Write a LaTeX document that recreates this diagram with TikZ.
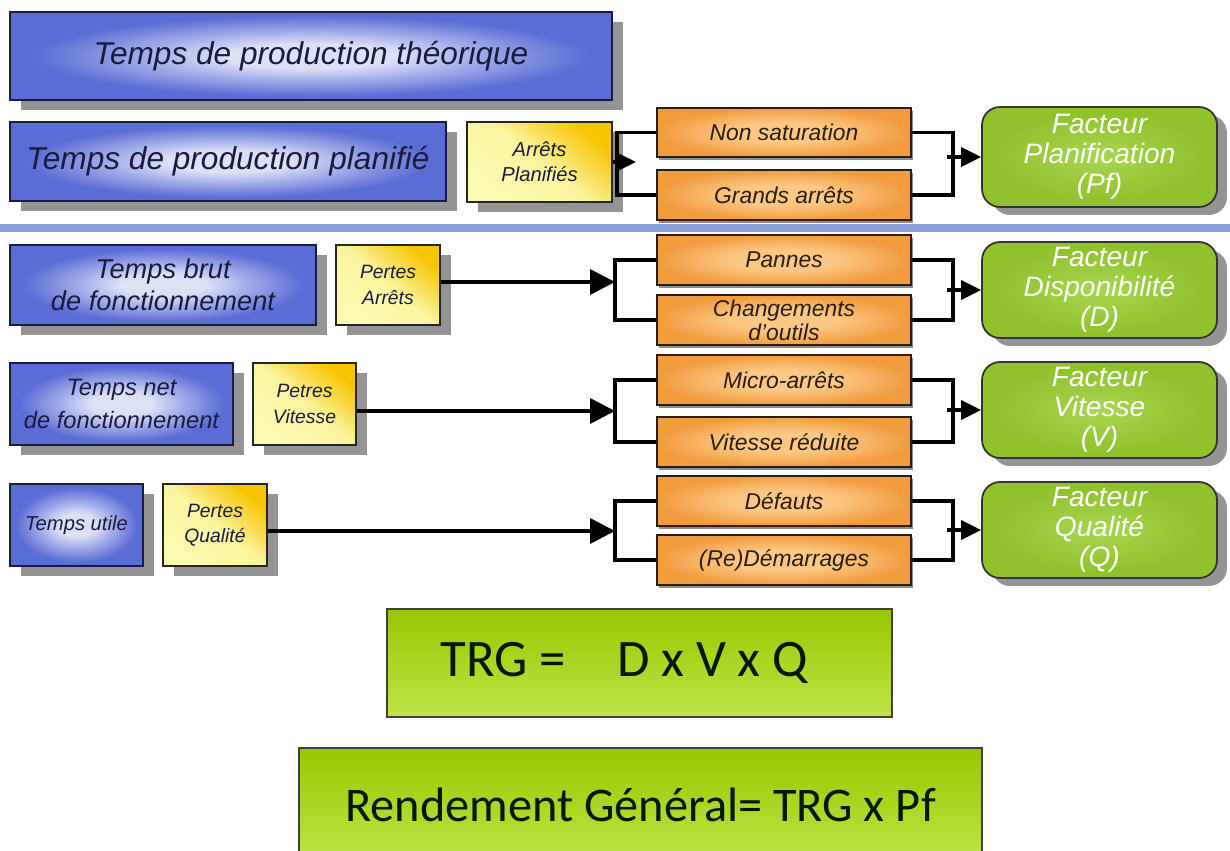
\documentclass[tikz,border=0pt]{standalone}
\usepackage{fontspec}
\setmainfont{Liberation Sans}
\newfontfamily\calibri{Carlito}
\usepackage{tikz}
\usetikzlibrary{shadows,arrows.meta}

\definecolor{boxblue}{RGB}{90,108,214}
\definecolor{bluemid}{RGB}{160,172,232}
\definecolor{boxbluelt}{RGB}{220,225,246}
\definecolor{bluetext}{RGB}{26,28,62}
\definecolor{ylwpale}{RGB}{252,250,178}
\definecolor{ylwgold}{RGB}{246,196,0}
\definecolor{orgdark}{RGB}{243,156,62}
\definecolor{orglight}{RGB}{250,200,132}
\definecolor{orgtext}{RGB}{42,30,18}
\definecolor{facgreen}{RGB}{144,194,44}
\definecolor{facgreenlt}{RGB}{170,214,82}
\definecolor{trgtop}{RGB}{152,200,0}
\definecolor{trgbot}{RGB}{190,228,72}
\definecolor{sepblue}{RGB}{138,158,216}

\pgfdeclareradialshading{blueglow}{\pgfpoint{0bp}{0bp}}{color(0bp)=(boxbluelt); color(7bp)=(boxbluelt); color(14bp)=(bluemid); color(23bp)=(boxblue); color(50bp)=(boxblue)}
\pgfdeclareradialshading{orangeglow}{\pgfpoint{0bp}{0bp}}{color(0bp)=(orglight); color(10bp)=(orglight); color(25bp)=(orgdark); color(50bp)=(orgdark)}
\pgfdeclareradialshading{greenglow}{\pgfpoint{0bp}{0bp}}{color(0bp)=(facgreenlt); color(22bp)=(facgreen); color(50bp)=(facgreen)}

\begin{document}
\begin{tikzpicture}[x=0.02cm, y=-0.02cm,
    tempsbox/.style={draw=bluetext, line width=0.9pt, shading=blueglow, text=bluetext,
      align=center, inner sep=0pt,
      drop shadow={shadow xshift=0.22cm, shadow yshift=-0.2cm, fill=black!42, opacity=1}},
    pertebox/.style={draw=black!85, line width=0.9pt, top color=ylwgold, bottom color=ylwpale,
      middle color=ylwpale!90!ylwgold, shading angle=-40, text=bluetext, align=center, inner sep=0pt,
      font=\itshape\fontsize{11.5}{14.5}\selectfont,
      drop shadow={shadow xshift=0.22cm, shadow yshift=-0.2cm, fill=black!42, opacity=1}},
    causebox/.style={draw=orgtext, line width=1pt, shading=orangeglow, text=orgtext, align=center,
      minimum width=5.08cm, minimum height=1cm, inner sep=0pt,
      font=\itshape\fontsize{13}{13.5}\selectfont,
      drop shadow={shadow xshift=0.04cm, shadow yshift=-0.06cm, fill=black!45, opacity=1}},
    facteur/.style={draw=black!80, line width=1pt, rounded corners=0.36cm, shading=greenglow,
      text=white, align=center, minimum width=4.7cm, inner sep=0pt,
      font=\itshape\fontsize{16}{17}\selectfont,
      drop shadow={shadow xshift=0.2cm, shadow yshift=-0.16cm, fill=black!42, opacity=1}},
    formule/.style={draw=black!75, line width=0.8pt, top color=trgtop, bottom color=trgbot,
      text=black!90!green, inner sep=0pt},
    link/.style={line width=2pt, line join=miter},
    flow/.style={line width=2pt, -{Triangle[length=0.5cm, width=0.5cm]}},
    flowsmall/.style={line width=2pt, -{Triangle[length=0.4cm, width=0.38cm]}}]

    \useasboundingbox (0,0) rectangle (1230,851);

    % Separator
    \draw[sepblue, line width=4pt] (0,228) -- (1230,228);

    % Time nodes
    \node[tempsbox, minimum width=12.04cm, minimum height=1.76cm, font=\itshape\fontsize{18}{21}\selectfont] (theo) at (311,56) {Temps de production théorique};
    \node[tempsbox, minimum width=8.72cm, minimum height=1.58cm, font=\itshape\fontsize{18}{21}\selectfont] (plan) at (228,161.5) {Temps de production planifié};
    \node[tempsbox, minimum width=6.12cm, minimum height=1.6cm, font=\itshape\fontsize{15.5}{18}\selectfont] (brut) at (163,285) {Temps brut\\de fonctionnement};
    \node[tempsbox, minimum width=4.46cm, minimum height=1.64cm, font=\itshape\fontsize{13.5}{19}\selectfont] (net) at (121.5,404) {Temps net\\de fonctionnement};
    \node[tempsbox, minimum width=2.66cm, minimum height=1.64cm, font=\itshape\fontsize{11.5}{14}\selectfont] (utile) at (76.5,525) {Temps utile};

    % Loss nodes
    \node[pertebox, minimum width=2.9cm, minimum height=1.6cm] (arrpl) at (539.5,162) {Arrêts\\Planifiés};
    \node[pertebox, minimum width=2.08cm, minimum height=1.6cm, font=\itshape\fontsize{11}{14.5}\selectfont] (parr) at (388,285) {Pertes\\Arrêts};
    \node[pertebox, minimum width=2.06cm, minimum height=1.64cm, font=\itshape\fontsize{11}{14.5}\selectfont] (pvit) at (304.5,404) {Petres\\Vitesse};
    \node[pertebox, minimum width=2.08cm, minimum height=1.64cm, font=\itshape\fontsize{11}{14.5}\selectfont] (pqual) at (215,525) {Pertes\\Qualité};

    % Cause nodes
    \node[causebox, minimum height=0.98cm] (nonsat) at (784,132.5) {Non saturation};
    \node[causebox] (grarr) at (784,195) {Grands arrêts};
    \node[causebox] (pannes) at (784,260) {Pannes};
    \node[causebox] (chgt) at (784,320) {Changements\\d'outils};
    \node[causebox] (micro) at (784,380) {Micro-arrêts};
    \node[causebox] (vitred) at (784,442) {Vitesse réduite};
    \node[causebox] (defauts) at (784,501) {Défauts};
    \node[causebox] (redem) at (784,560) {(Re)Démarrages};

    % Factor nodes
    \node[facteur, minimum height=2cm] (fpf) at (1099.5,157) {Facteur\\Planification\\(Pf)};
    \node[facteur, minimum height=1.92cm] (fd) at (1099.5,290) {Facteur\\Disponibilité\\(D)};
    \node[facteur, minimum height=1.92cm] (fv) at (1099.5,410) {Facteur\\Vitesse\\(V)};
    \node[facteur, minimum height=1.92cm] (fq) at (1099.5,530) {Facteur\\Qualité\\(Q)};

    % Formulas
    \node[formule, minimum width=10.1cm, minimum height=2.16cm,
      font=\calibri\fontsize{30}{33}\selectfont] (trg) at (639.5,663) {TRG =\hspace{29pt}D x V x Q\rule{0.6cm}{0pt}};
    \node[formule, minimum width=13.66cm, minimum height=2.28cm,
      font=\calibri\fontsize{27.5}{30}\selectfont] (rg) at (640.5,805) {Rendement Général= TRG x Pf};

    % Split points
    \coordinate (spf) at (617,162);
    \coordinate (tipf) at (636,162);
    \coordinate (sd) at (615,282);
    \coordinate (sv) at (615,411);
    \coordinate (sq) at (615,531);
    % Merge points
    \coordinate (mpf) at (953,157);
    \coordinate (md) at (953,290);
    \coordinate (mv) at (953,410);
    \coordinate (mq) at (953,530);

    % Edges
    \draw[link] (nonsat.west) -| (spf) |- (grarr.west);
    \draw[link] (pannes.west) -| (sd) |- (chgt.west);
    \draw[link] (micro.west) -| (sv) |- (vitred.west);
    \draw[link] (defauts.west) -| (sq) |- (redem.west);
    \draw[flowsmall] (arrpl.east) -- (tipf);
    \draw[flow] (parr.east |- sd) -- (sd);
    \draw[flow] (pvit.east |- sv) -- (sv);
    \draw[flow] (pqual.east |- sq) -- (sq);

    \draw[link] (nonsat.east) -| (mpf) |- (grarr.east);
    \draw[link] (pannes.east) -| (md) |- (chgt.east);
    \draw[link] (micro.east) -| (mv) |- (vitred.east);
    \draw[link] (defauts.east) -| (mq) |- (redem.east);
    \draw[flowsmall] ([xshift=-0.12cm]mpf) -- (fpf.west);
    \draw[flowsmall] ([xshift=-0.12cm]md) -- (fd.west);
    \draw[flowsmall] ([xshift=-0.12cm]mv) -- (fv.west);
    \draw[flowsmall] ([xshift=-0.12cm]mq) -- (fq.west);
\end{tikzpicture}
\end{document}
